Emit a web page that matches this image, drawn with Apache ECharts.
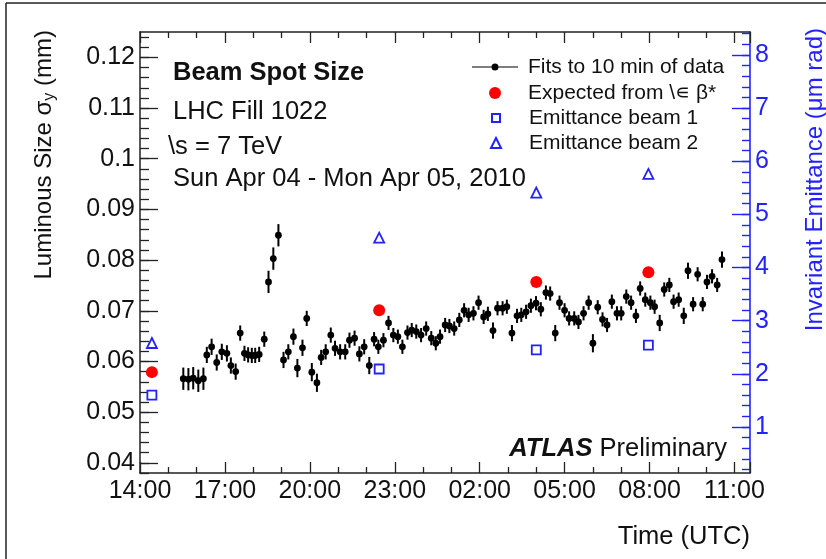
<!DOCTYPE html>
<html><head><meta charset="utf-8">
<script src="https://cdn.jsdelivr.net/npm/echarts@6/dist/echarts.min.js"></script>
<style>html,body{margin:0;padding:0;background:#fff}#c{width:826px;height:559px}</style>
</head><body><div id="c"></div>
<script>
// hours after 14:00 UTC, Sun Apr 04 2010
const fitTimes = [1.53,1.71,1.88,2.06,2.24,2.36,2.53,2.71,2.89,3.07,
3.21,3.38,3.54,3.69,3.82,3.95,4.07,4.21,4.39,4.54,
4.71,4.89,5.07,5.24,5.42,5.56,5.74,5.89,6.07,6.25,
6.40,6.56,6.74,6.89,7.07,7.25,7.40,7.58,7.75,7.92,
8.10,8.27,8.42,8.60,8.78,8.95,9.11,9.27,9.45,9.60,
9.76,9.93,10.11,10.29,10.45,10.60,10.78,10.93,11.10,11.28,
11.45,11.61,11.78,11.96,12.14,12.29,12.47,12.63,12.81,12.96,
13.14,13.32,13.47,13.64,13.81,13.99,14.16,14.34,14.49,14.67,
14.82,15.00,15.16,15.34,15.49,15.67,15.85,16.00,16.17,16.34,
16.50,16.67,16.85,17.00,17.18,17.35,17.52,17.67,17.85,18.03,
18.18,18.36,18.52,18.70,18.85,19.03,19.21,19.36,19.54,19.70,
19.88,20.03,20.21,20.39,20.56];
const fitSizes = [0.0566,0.0565,0.0567,0.0562,0.0566,0.0613,0.0629,0.0598,0.0619,0.0616,
0.0592,0.0580,0.0656,0.0616,0.0613,0.0612,0.0612,0.0614,0.0644,0.0757,
0.0803,0.0849,0.0603,0.0619,0.0649,0.0587,0.0627,0.0685,0.0579,0.0558,
0.0608,0.0619,0.0652,0.0626,0.0619,0.0619,0.0642,0.0646,0.0615,0.0629,
0.0592,0.0644,0.0629,0.0642,0.0676,0.0652,0.0649,0.0629,0.0657,0.0662,
0.0659,0.0652,0.0665,0.0646,0.0636,0.0649,0.0672,0.0670,0.0665,0.0682,
0.0701,0.0692,0.0695,0.0716,0.0688,0.0694,0.0661,0.0705,0.0705,0.0708,
0.0656,0.0690,0.0692,0.0698,0.0710,0.0715,0.0703,0.0736,0.0734,0.0656,
0.0716,0.0701,0.0685,0.0685,0.0678,0.0695,0.0716,0.0636,0.0707,0.0683,
0.0672,0.0718,0.0695,0.0695,0.0728,0.0716,0.0690,0.0744,0.0722,0.0716,
0.0708,0.0676,0.0742,0.0751,0.0718,0.0722,0.0690,0.0779,0.0713,0.0772,
0.0713,0.0757,0.0768,0.0751,0.0801];
const fitErrors = [0.0022,0.0022,0.0022,0.0022,0.0022,0.0016,0.0016,0.0016,0.0016,0.0016,
0.0016,0.0016,0.0015,0.0015,0.0015,0.0015,0.0015,0.0015,0.0015,0.0022,
0.0022,0.0022,0.0016,0.0015,0.0016,0.0018,0.0016,0.0015,0.0018,0.0018,
0.0015,0.0015,0.0015,0.0015,0.0015,0.0015,0.0015,0.0015,0.0015,0.0015,
0.0017,0.0014,0.0014,0.0014,0.0014,0.0014,0.0014,0.0014,0.0014,0.0014,
0.0014,0.0014,0.0014,0.0014,0.0014,0.0014,0.0014,0.0014,0.0014,0.0014,
0.0014,0.0014,0.0014,0.0014,0.0014,0.0014,0.0016,0.0014,0.0014,0.0014,
0.0016,0.0014,0.0014,0.0014,0.0014,0.0014,0.0014,0.0014,0.0014,0.0016,
0.0014,0.0014,0.0014,0.0014,0.0014,0.0014,0.0014,0.0018,0.0014,0.0014,
0.0014,0.0014,0.0014,0.0014,0.0014,0.0014,0.0014,0.0014,0.0014,0.0014,
0.0014,0.0016,0.0014,0.0014,0.0014,0.0014,0.0016,0.0016,0.0014,0.0014,
0.0014,0.0014,0.0014,0.0014,0.0016];
const refTimes = [0.42, 8.45, 14.0, 17.96];
const expectedSizes = [0.0579, 0.0701, 0.0757, 0.0776];
const emitBeam1 = [1.60, 2.09, 2.45, 2.54];
const emitBeam2 = [2.58, 4.56, 5.41, 5.76];
const xTickLabels = ['14:00','17:00','20:00','23:00','02:00','05:00','08:00','11:00'];
const leftTickValues = [0.04,0.05,0.06,0.07,0.08,0.09,0.10,0.11,0.12];
const rightTickValues = [1,2,3,4,5,6,7,8];

const FONT = "'Liberation Sans', Arial, Helvetica, sans-serif";
const BLUE = '#2222ff';
const DARK = '#222';
const leftMinor = []; for (let i = 19; i <= 62; i++) leftMinor.push(+(i*0.002).toFixed(3));
const rightMinor = []; for (let i = 1; i <= 42; i++) rightMinor.push(+(i*0.2).toFixed(1));

const fitData = fitTimes.map((t, i) => [t, fitSizes[i], fitErrors[i]]);
const expData = refTimes.map((t, i) => [t, expectedSizes[i]]);
const b1Data = refTimes.map((t, i) => [t, emitBeam1[i]]);
const b2Data = refTimes.map((t, i) => [t, emitBeam2[i]]);

const chart = echarts.init(document.getElementById('c'), null, {renderer: 'canvas'});
const xCommon = {
  type: 'value', min: 0, max: 21.55, interval: 3,
  axisLine: {onZero: false, lineStyle: {color: DARK, width: 1.5}},
  axisTick: {inside: true, length: 11, lineStyle: {color: DARK, width: 1.3}},
  minorTick: {show: true, splitNumber: 3, length: 6, lineStyle: {color: DARK, width: 1.3}},
  splitLine: {show: false}, minorSplitLine: {show: false}
};
const fitIcon = 'path://M0,3L19.5,3L19.5,4.2L0,4.2Z M26.5,3L46,3L46,4.2L26.5,4.2Z M19.5,3.6A3.5,3.5,0,1,1,26.5,3.6A3.5,3.5,0,1,1,19.5,3.6Z';
const legText = (pad) => ({fontSize: 21, lineHeight: 22, color: '#111', fontFamily: FONT, padding: [0,0,0,pad]});
const TB = 25.5;

chart.setOption({
  animation: false,
  backgroundColor: '#fff',
  textStyle: {fontFamily: FONT},
  grid: {left: 140, right: 76, top: 32, bottom: 86, containLabel: false},
  xAxis: [
    Object.assign({}, xCommon, {position: 'bottom',
      axisLabel: {fontSize: 25, margin: 6, color: '#111', fontFamily: FONT,
        formatter: v => (Math.abs(v/3 - Math.round(v/3)) < 1e-6 ? (xTickLabels[Math.round(v/3)] || '') : '')}}),
    Object.assign({}, xCommon, {position: 'top', axisLabel: {show: false}})
  ],
  yAxis: [
    {type: 'value', position: 'left', min: 0.038, max: 0.125,
      axisLine: {onZero: false, lineStyle: {color: DARK, width: 1.5}},
      axisTick: {inside: true, length: 18, customValues: leftTickValues, lineStyle: {color: DARK, width: 1.3}},
      axisLabel: {customValues: leftTickValues, fontSize: 25, margin: 5, color: '#111', fontFamily: FONT,
        formatter: v => String(+(+v).toFixed(3))},
      splitLine: {show: false}},
    {type: 'value', position: 'left', min: 0.038, max: 0.125,
      axisLine: {show: false, onZero: false},
      axisTick: {inside: true, length: 9, customValues: leftMinor, lineStyle: {color: DARK, width: 1.3}},
      axisLabel: {show: false}, splitLine: {show: false}},
    {type: 'value', position: 'right', min: 0.134, max: 8.43,
      axisLine: {onZero: false, lineStyle: {color: BLUE, width: 1.6}},
      axisTick: {inside: true, length: 18, customValues: rightTickValues, lineStyle: {color: BLUE, width: 1.4}},
      axisLabel: {customValues: rightTickValues, fontSize: 25, margin: 5, color: BLUE, fontFamily: FONT,
        formatter: v => String(Math.round(v))},
      splitLine: {show: false}},
    {type: 'value', position: 'right', min: 0.134, max: 8.43,
      axisLine: {show: false, onZero: false},
      axisTick: {inside: true, length: 8, customValues: rightMinor, lineStyle: {color: BLUE, width: 1.4}},
      axisLabel: {show: false}, splitLine: {show: false}}
  ],
  legend: [
    {data: [{name: 'Fits to 10 min of data', icon: fitIcon, itemStyle: {color: '#000'}}],
      left: 472, top: 56, padding: 0, itemWidth: 46, itemHeight: 7, selectedMode: false, textStyle: legText(5)},
    {data: ['Expected from \\\u220A \u03B2*'], left: 489, top: 82, padding: 0, itemWidth: 12, itemHeight: 12, selectedMode: false, textStyle: legText(22)},
    {data: ['Emittance beam 1'], left: 491, top: 107, padding: 0, itemWidth: 8, itemHeight: 8, selectedMode: false, textStyle: legText(24)},
    {data: ['Emittance beam 2'], left: 490, top: 132, padding: 0, itemWidth: 10, itemHeight: 10, selectedMode: false, textStyle: legText(23)}
  ],
  series: [
    {name: 'Fits to 10 min of data', type: 'custom', xAxisIndex: 0, yAxisIndex: 0, z: 5,
      data: fitData,
      renderItem: (params, api) => {
        const x = api.value(0), y = api.value(1), e = api.value(2);
        const p = api.coord([x, y]);
        const hi = api.coord([x, y + e]);
        const lo = api.coord([x, y - e]);
        return {type: 'group', children: [
          {type: 'line', shape: {x1: p[0], y1: hi[1], x2: p[0], y2: lo[1]}, style: {stroke: '#000', lineWidth: 2}},
          {type: 'circle', shape: {cx: p[0], cy: p[1], r: 3.4}, style: {fill: '#000'}}
        ]};
      }},
    {name: 'Expected from \\\u220A \u03B2*', type: 'scatter', xAxisIndex: 0, yAxisIndex: 0, z: 6,
      symbol: 'circle', symbolSize: 12, itemStyle: {color: '#ff0000', opacity: 1}, data: expData},
    {name: 'Emittance beam 1', type: 'scatter', xAxisIndex: 0, yAxisIndex: 2, z: 6,
      symbol: 'rect', symbolSize: 9, itemStyle: {color: '#ffffff', borderColor: BLUE, borderWidth: 1.8, opacity: 1}, data: b1Data},
    {name: 'Emittance beam 2', type: 'scatter', xAxisIndex: 0, yAxisIndex: 2, z: 6,
      symbol: 'triangle', symbolSize: 10, itemStyle: {color: '#ffffff', borderColor: BLUE, borderWidth: 1.8, opacity: 1}, data: b2Data}
  ],
  graphic: [
    {type: 'line', shape: {x1: 6, y1: 3, x2: 826, y2: 3}, style: {stroke: '#222', lineWidth: 1.5}},
    {type: 'line', shape: {x1: 6, y1: 3, x2: 6, y2: 559}, style: {stroke: '#222', lineWidth: 1.5}},
    {type: 'text', x: 44, y: 30, rotation: Math.PI/2,
      style: {text: 'Luminous Size \u03C3{s|y} (mm)', fontSize: 24, fontFamily: FONT, fill: '#111',
        align: 'right', verticalAlign: 'middle', textAlign: 'right', textVerticalAlign: 'middle', lineHeight: 28,
        rich: {s: {fontSize: 16, fontFamily: FONT, fill: '#111', verticalAlign: 'bottom', lineHeight: 14}}}},
    {type: 'text', x: 815, y: 28, rotation: Math.PI/2,
      style: {text: 'Invariant Emittance (\u03BCm rad)', fontSize: 24, fontFamily: FONT, fill: BLUE,
        align: 'right', verticalAlign: 'middle', textAlign: 'right', textVerticalAlign: 'middle'}},
    {type: 'text', x: 750, y: 537,
      style: {text: 'Time (UTC)', fontSize: TB, fontFamily: FONT, fill: '#111',
        align: 'right', verticalAlign: 'middle', textAlign: 'right', textVerticalAlign: 'middle'}},
    {type: 'text', x: 173, y: 73,
      style: {text: 'Beam Spot Size', fontSize: TB, fontWeight: 'bold', fontFamily: FONT, fill: '#111',
        align: 'left', verticalAlign: 'middle', textAlign: 'left', textVerticalAlign: 'middle'}},
    {type: 'text', x: 173, y: 112,
      style: {text: 'LHC Fill 1022', fontSize: TB, fontFamily: FONT, fill: '#111',
        align: 'left', verticalAlign: 'middle', textAlign: 'left', textVerticalAlign: 'middle'}},
    {type: 'text', x: 168, y: 147,
      style: {text: '\\s = 7 TeV', fontSize: TB, fontFamily: FONT, fill: '#111',
        align: 'left', verticalAlign: 'middle', textAlign: 'left', textVerticalAlign: 'middle'}},
    {type: 'text', x: 173, y: 179,
      style: {text: 'Sun Apr 04 - Mon Apr 05, 2010', fontSize: TB, fontFamily: FONT, fill: '#111',
        align: 'left', verticalAlign: 'middle', textAlign: 'left', textVerticalAlign: 'middle'}},
    {type: 'text', x: 727, y: 449,
      style: {text: '{b|ATLAS} Preliminary', fontSize: TB, fontFamily: FONT, fill: '#111',
        align: 'right', verticalAlign: 'middle', textAlign: 'right', textVerticalAlign: 'middle',
        rich: {b: {fontSize: TB, fontFamily: FONT, fontWeight: 'bold', fontStyle: 'italic', fill: '#111'}}}}
  ]
});
</script></body></html>
